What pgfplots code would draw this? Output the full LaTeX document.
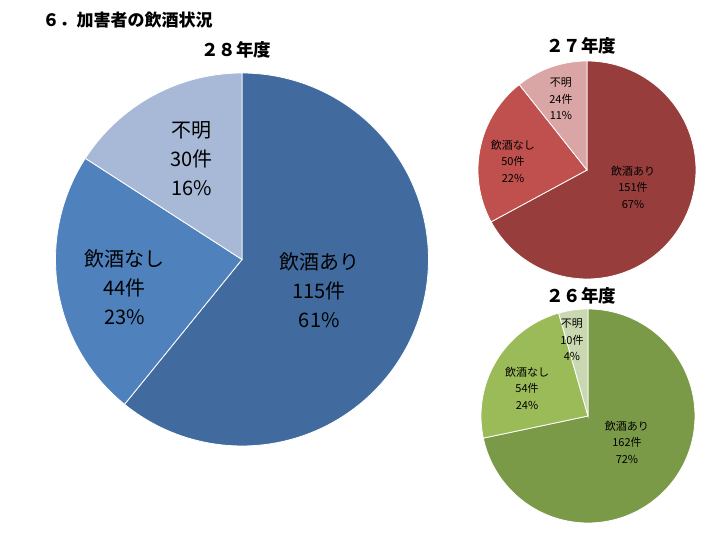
\documentclass[border=0pt]{standalone}
\usepackage{pgfplots}
\pgfplotsset{compat=1.18}
\usepackage{fontspec}
\setmainfont{Noto Sans CJK JP}
\definecolor{bA}{HTML}{416B9E}
\definecolor{bB}{HTML}{4F81BD}
\definecolor{bC}{HTML}{A8B9D7}
\definecolor{rA}{HTML}{973E3C}
\definecolor{rB}{HTML}{C0504D}
\definecolor{rC}{HTML}{D9A6A5}
\definecolor{gA}{HTML}{7A9A48}
\definecolor{gB}{HTML}{9BBB59}
\definecolor{gC}{HTML}{C9D8B0}
\pgfplotsset{
  pie/.style={hide axis, scale only axis, xmin=-1, xmax=1, ymin=-1, ymax=1, clip=false, anchor=origin},
  slice/.style={fill=#1, draw=white, line width=0.8pt, samples=120, variable=\t},
}
% data: 飲酒あり, 飲酒なし, 不明
\def\HA{115}\def\HB{44}\def\HC{30}   % 28年度
\def\SA{151}\def\SB{50}\def\SC{24}   % 27年度
\def\TA{162}\def\TB{54}\def\TC{10}   % 26年度
\begin{document}
\begin{tikzpicture}
\path[use as bounding box] (0pt,0pt) rectangle (716pt,533pt);
\pgfmathsetmacro\Ht{\HA+\HB+\HC}
\pgfmathsetmacro\Ha{90-360*(\HA/\Ht)}
\pgfmathsetmacro\Hb{\Ha-360*(\HB/\Ht)}
\pgfmathsetmacro\St{\SA+\SB+\SC}
\pgfmathsetmacro\Sa{90-360*(\SA/\St)}
\pgfmathsetmacro\Sb{\Sa-360*(\SB/\St)}
\pgfmathsetmacro\Tt{\TA+\TB+\TC}
\pgfmathsetmacro\Ta{90-360*(\TA/\Tt)}
\pgfmathsetmacro\Tb{\Ta-360*(\TB/\Tt)}

\node[anchor=west, font=\fontsize{17pt}{20pt}\selectfont\bfseries] at (39pt,513pt) {６．加害者の飲酒状況};
\node[font=\fontsize{17.5pt}{20pt}\selectfont\bfseries] at (236pt,483pt) {２８年度};
\node[font=\fontsize{17.5pt}{20pt}\selectfont\bfseries] at (581pt,487pt) {２７年度};
\node[font=\fontsize{17.5pt}{20pt}\selectfont\bfseries] at (581pt,237pt) {２６年度};

% 28年度
\begin{axis}[pie, at={(242pt,273.5pt)}, width=373pt, height=373pt]
\addplot[slice=bA, domain=\Ha:90] ({cos(\t)},{sin(\t)}) -- (axis cs:0,0) -- cycle;
\addplot[slice=bB, domain=\Hb:\Ha] ({cos(\t)},{sin(\t)}) -- (axis cs:0,0) -- cycle;
\addplot[slice=bC, domain=-270:\Hb] ({cos(\t)},{sin(\t)}) -- (axis cs:0,0) -- cycle;
\node[align=center, font=\fontsize{20pt}{29pt}\selectfont] at (axis cs:0.414,-0.167) {飲酒あり\\115件\\61\%};
\node[align=center, font=\fontsize{20pt}{29pt}\selectfont] at (axis cs:-0.629,-0.151) {飲酒なし\\44件\\23\%};
\node[align=center, font=\fontsize{20pt}{29pt}\selectfont] at (axis cs:-0.269,0.543) {不明\\30件\\16\%};
\end{axis}

% 27年度
\begin{axis}[pie, at={(587pt,363pt)}, width=218pt, height=218pt]
\addplot[slice=rA, domain=\Sa:90] ({cos(\t)},{sin(\t)}) -- (axis cs:0,0) -- cycle;
\addplot[slice=rB, domain=\Sb:\Sa] ({cos(\t)},{sin(\t)}) -- (axis cs:0,0) -- cycle;
\addplot[slice=rC, domain=-270:\Sb] ({cos(\t)},{sin(\t)}) -- (axis cs:0,0) -- cycle;
\node[align=center, font=\fontsize{11pt}{16.5pt}\selectfont] at (axis cs:0.422,-0.156) {飲酒あり\\151件\\67\%};
\node[align=center, font=\fontsize{11pt}{16.5pt}\selectfont] at (axis cs:-0.679,0.083) {飲酒なし\\50件\\22\%};
\node[align=center, font=\fontsize{11pt}{16.5pt}\selectfont] at (axis cs:-0.239,0.651) {不明\\24件\\11\%};
\end{axis}

% 26年度
\begin{axis}[pie, at={(588pt,117pt)}, width=214pt, height=214pt]
\addplot[slice=gA, domain=\Ta:90] ({cos(\t)},{sin(\t)}) -- (axis cs:0,0) -- cycle;
\addplot[slice=gB, domain=\Tb:\Ta] ({cos(\t)},{sin(\t)}) -- (axis cs:0,0) -- cycle;
\addplot[slice=gC, domain=-270:\Tb] ({cos(\t)},{sin(\t)}) -- (axis cs:0,0) -- cycle;
\node[align=center, font=\fontsize{11pt}{16.5pt}\selectfont] at (axis cs:0.364,-0.243) {飲酒あり\\162件\\72\%};
\node[align=center, font=\fontsize{11pt}{16.5pt}\selectfont] at (axis cs:-0.570,0.262) {飲酒なし\\54件\\24\%};
\node[align=center, font=\fontsize{11pt}{16.5pt}\selectfont] at (axis cs:-0.150,0.710) {不明\\10件\\4\%};
\end{axis}
\end{tikzpicture}
\end{document}
